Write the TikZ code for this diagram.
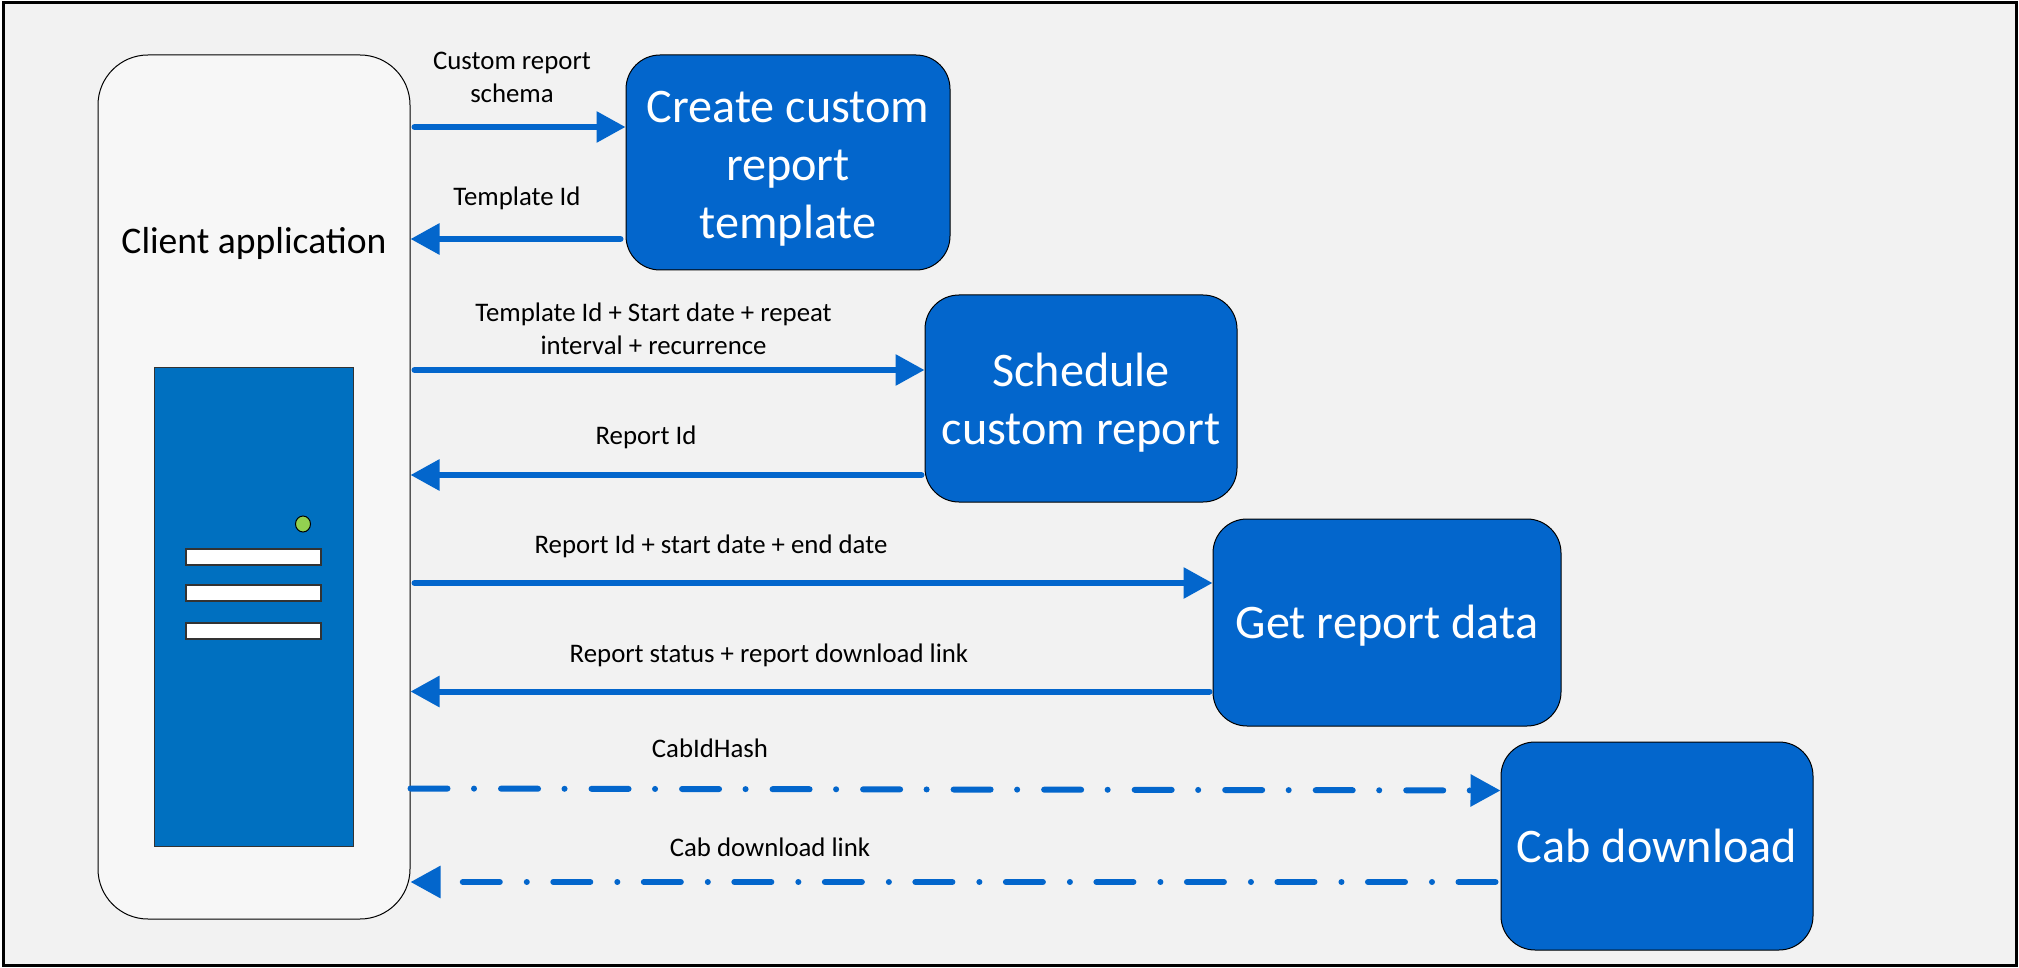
\documentclass[tikz,border=0pt]{standalone}
\usepackage{fontspec}
\setmainfont{Carlito}
\usetikzlibrary{arrows.meta,shapes.geometric}
\definecolor{flowblue}{HTML}{0366CC}
\definecolor{serverblue}{HTML}{0070C0}
\definecolor{ledgreen}{HTML}{92D050}
\tikzset{
	stepbox/.style={draw=black, line width=0.5pt, fill=flowblue, text=white, rounded corners=17pt, inner sep=0pt, align=center, font=\fontsize{24.1}{29}\selectfont},
	slotbox/.style={draw=black!80, line width=0.6pt, fill=white, inner sep=0pt, minimum width=67.5pt, minimum height=8pt},
	msg/.style={inner sep=0pt, align=center, text=black, font=\fontsize{13.4}{16.3}\selectfont},
	flowline/.style={draw=flowblue, line width=3pt, line cap=round, -{Triangle[length=14.5pt,width=15pt]}, shorten <=2pt, shorten >=0pt},
	flowdash/.style={draw=flowblue, line width=3pt, line cap=round, -{Triangle[length=15pt,width=15.5pt]}, dash pattern=on 18.5pt off 13.25pt on 0.01pt off 13.5pt, shorten >=0pt}
}
\begin{document}
\begin{tikzpicture}[x=0.5pt,y=-0.5pt]
	\useasboundingbox (0,0) rectangle (2019,968);
	\node[draw=black, line width=1.5pt, fill=black!5, inner sep=0pt, minimum width=1006.5pt, minimum height=481pt] (frame) at (1009.5,484) {};

	\node[draw=black, line width=0.5pt, fill=black!3, rounded corners=25pt, inner sep=0pt, minimum width=156pt, minimum height=432pt] (client) at (254,487) {};
	\node[inner sep=0pt, font=\fontsize{18.8}{22}\selectfont] (clientname) at (254,243) {Client application};

	\node[draw=black!80, line width=0.5pt, fill=serverblue, inner sep=0pt, minimum width=99.5pt, minimum height=239.5pt] (server) at (253.5,606.5) {};
	\node[draw=black, line width=0.5pt, fill=ledgreen, ellipse, inner sep=0pt, minimum width=7.5pt, minimum height=8pt] (led) at (303,524) {};
	\node[slotbox] (slot1) at (253.5,557) {};
	\node[slotbox] (slot2) at (253.5,593) {};
	\node[slotbox] (slot3) at (253.5,631) {};

	\node[stepbox, minimum width=162pt, minimum height=107.5pt] (create) at (788,162.5) {\rule{0pt}{21.4pt}Create custom\\report\\template};
	\node[stepbox, minimum width=156pt, minimum height=103.5pt] (schedule) at (1081,398.5) {\rule{0pt}{20.8pt}Schedule\\custom report};
	\node[stepbox, minimum width=174pt, minimum height=103.5pt] (getdata) at (1387,622.5) {\rule{0pt}{20.2pt}Get report data};
	\node[stepbox, minimum width=156pt, minimum height=104pt] (cab) at (1657,846) {Cab download};

	\node[msg] (msg1) at (512,77.5) {Custom report\\schema};
	\node[msg] (msg2) at (517,198.5) {Template Id};
	\node[msg] (msg3) at (653.5,329) {Template Id + Start date + repeat\\interval + recurrence};
	\node[msg] (msg4) at (646,437.5) {Report Id};
	\node[msg] (msg5) at (711,546) {Report Id + start date + end date};
	\node[msg] (msg6) at (769,655) {Report status + report download link};
	\node[msg] (msg7) at (710,748) {CabIdHash};
	\node[msg] (msg8) at (770,847.5) {Cab download link};

	\coordinate (row1) at (0,127);
	\coordinate (row2) at (0,239);
	\coordinate (row3) at (0,370);
	\coordinate (row4) at (0,475);
	\coordinate (row5) at (0,583);
	\coordinate (row6) at (0,691.5);
	\coordinate (row7a) at (0,788.5);
	\coordinate (row7b) at (0,790.5);
	\coordinate (row8) at (0,882);

	\draw[flowline] (client.east |- row1) -- (create.west |- row1);
	\draw[flowline, shorten <=2.5pt] (create.west |- row2) -- (client.east |- row2);
	\draw[flowline] (client.east |- row3) -- (schedule.west |- row3);
	\draw[flowline, shorten <=1.5pt] (schedule.west |- row4) -- (client.east |- row4);
	\draw[flowline] (client.east |- row5) -- (getdata.west |- row5);
	\draw[flowline, shorten <=1.5pt] (getdata.west |- row6) -- (client.east |- row6);
	\draw[flowdash] (client.east |- row7a) -- (cab.west |- row7b);
	\draw[flowdash, shorten <=2.5pt] (cab.west |- row8) -- (client.east |- row8);
\end{tikzpicture}
\end{document}
